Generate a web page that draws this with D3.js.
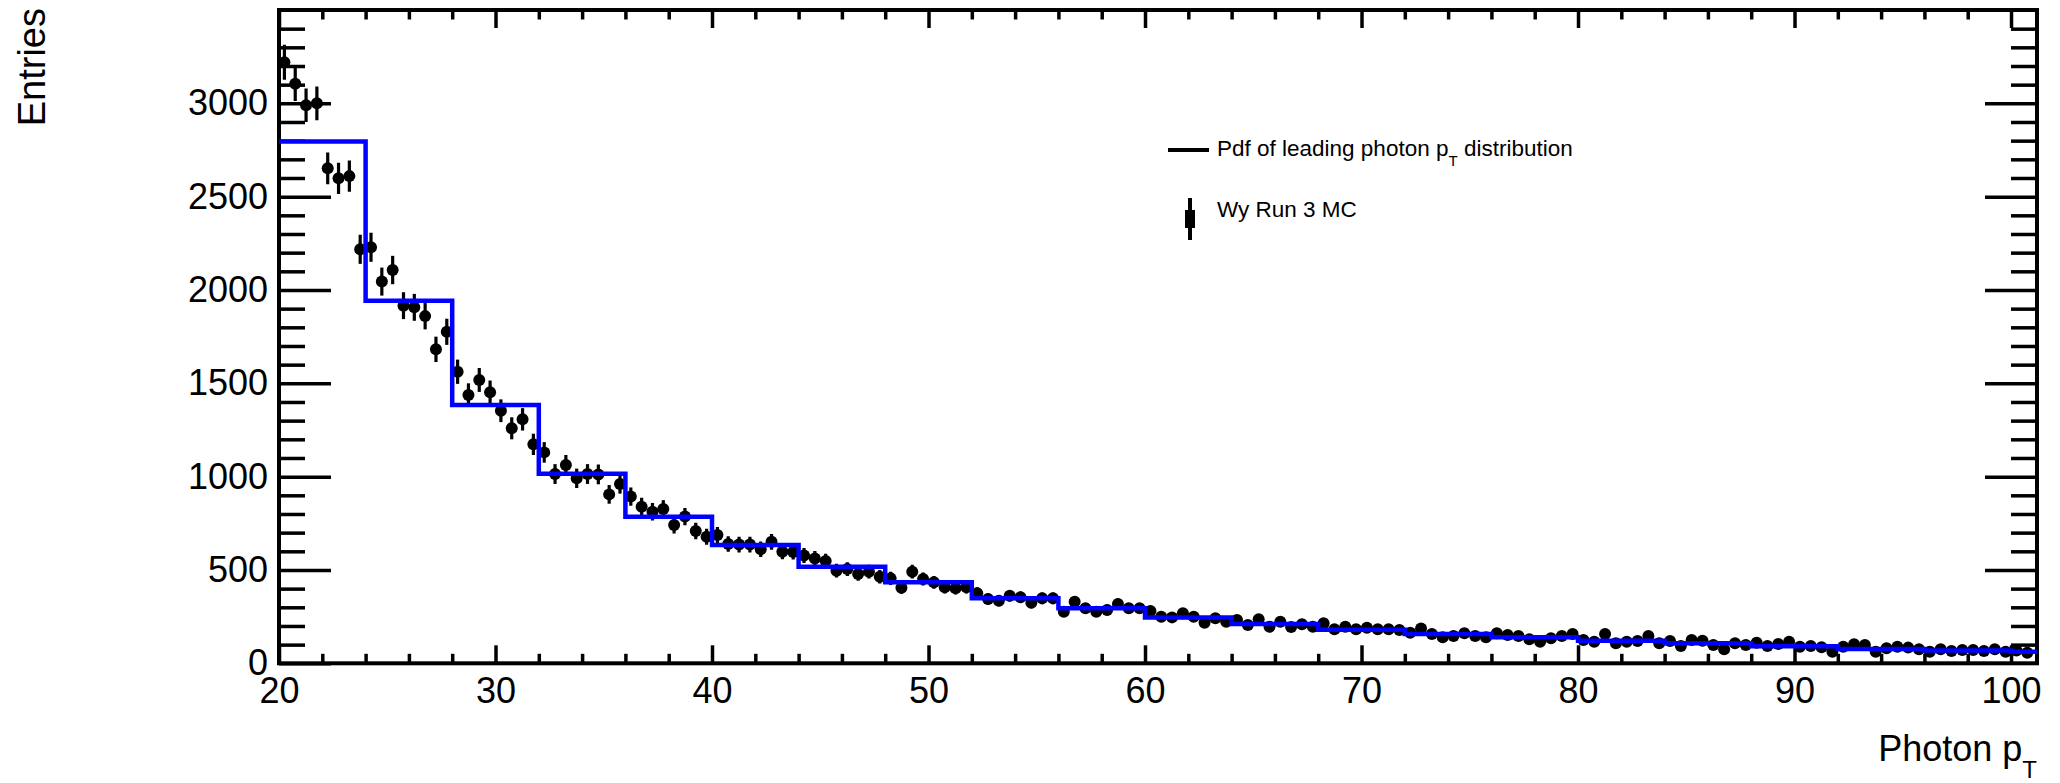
<!doctype html>
<html lang="en">
<head>
    <meta charset="UTF-8" />
    <title>Photon pT</title>
    <script src="https://d3js.org/d3.v7.min.js"></script>
    <style>
        body, html {
            margin: 0;
            padding: 0;
            background: white;
            overflow: hidden;
        }

        svg {
            display: block;
            font-family: "Liberation Sans", Arial, sans-serif;
        }

        .axis path.domain {
            display: none;
        }

        .axis line {
            stroke: black;
            stroke-width: 3.5px;
        }

        .axis text {
            font-family: "Liberation Sans", Arial, sans-serif;
            font-size: 36px;
            fill: black;
        }
    </style>
</head>
<body>
    <svg id="chart" width="2060" height="783"></svg>

    <script>
        // data histogram: 0.5 wide bins starting at 20
        const binStart = 20;
        const binWidth = 0.5;
        const counts = [
            3220, 3105, 2990, 3000, 2652, 2598, 2610, 2218, 2229, 2045,
            2107, 1916, 1907, 1860, 1682, 1776, 1562, 1437, 1518, 1452,
            1353, 1259, 1307, 1173, 1130, 1014, 1062, 991, 1014, 1012,
            905, 960, 893, 839, 812, 827, 741, 786, 709, 678,
            687, 639, 636, 636, 611, 651, 598, 596, 578, 562,
            548, 496, 505, 478, 491, 464, 455, 405, 491, 452,
            434, 407, 402, 407, 375, 344, 335, 362, 354, 325,
            348, 348, 276, 330, 295, 276, 286, 318, 295, 295,
            280, 250, 246, 268, 250, 217, 241, 223, 232, 205,
            236, 196, 223, 194, 209, 196, 214, 182, 196, 182,
            191, 182, 182, 178, 164, 187, 157, 139, 146, 161,
            146, 139, 161, 152, 146, 129, 116, 134, 146, 157,
            125, 116, 157, 107, 116, 119, 146, 107, 120, 93,
            125, 121, 98, 75, 107, 98, 110, 93, 103, 116,
            89, 93, 86, 62, 89, 102, 98, 62, 80, 89,
            84, 75, 62, 75, 66, 71, 71, 66, 75, 62,
            68, 57
        ];
        const errors = [
            94, 92, 90, 90, 85, 84, 84, 78, 78, 75,
            76, 72, 72, 71, 68, 70, 65, 63, 64, 63,
            61, 59, 60, 57, 55, 53, 54, 52, 53, 53,
            50, 51, 49, 48, 47, 47, 45, 46, 44, 43,
            43, 42, 42, 42, 41, 42, 40, 40, 40, 39,
            39, 37, 37, 36, 37, 36, 35, 33, 37, 35,
            34, 33, 33, 33, 32, 31, 30, 31, 31, 30,
            31, 31, 27, 30, 28, 27, 28, 29, 28, 28,
            28, 26, 26, 27, 26, 24, 26, 25, 25, 24,
            25, 23, 25, 23, 24, 23, 24, 22, 23, 22,
            23, 22, 22, 22, 21, 23, 21, 19, 20, 21,
            20, 19, 21, 20, 20, 19, 18, 19, 20, 21,
            18, 18, 21, 17, 18, 18, 20, 17, 18, 16,
            18, 18, 16, 14, 17, 16, 17, 16, 17, 18,
            16, 16, 15, 13, 16, 17, 16, 13, 15, 16,
            15, 14, 13, 14, 13, 14, 14, 13, 14, 13,
            14, 12
        ];

        // pdf histogram, 4 wide bins
        const pdfEdges = [20, 24, 28, 32, 36, 40, 44, 48, 52, 56, 60, 64, 68, 72, 76, 80, 84, 88, 92, 96, 100, 104];
        const pdfValues = [2795, 1943, 1384, 1015, 785, 634, 517, 434, 348, 295, 246, 211, 180, 157, 139, 121, 108, 91, 77, 68, 62];

        const xMajor = [20, 30, 40, 50, 60, 70, 80, 90, 100];
        const yMajor = [0, 500, 1000, 1500, 2000, 2500, 3000];

        const svg = d3.select("#chart");
        const plotLeft = 279, plotRight = 2037, plotTop = 10, plotBottom = 663.3;

        const x = d3.scaleLinear().domain([20, 101.2]).range([plotLeft, plotRight]);
        const y = d3.scaleLinear().domain([0, 3500]).range([plotBottom, plotTop]);

        const xMinor = d3.range(22, 101, 2).filter(d => d % 10 !== 0);
        const yMinor = d3.range(100, 3500, 100).filter(d => d % 500 !== 0);

        svg.append("rect")
            .attr("width", 2060).attr("height", 783).attr("fill", "white");

        svg.append("clipPath").attr("id", "plot-clip")
            .append("rect")
            .attr("x", plotLeft).attr("y", plotTop)
            .attr("width", plotRight - plotLeft).attr("height", plotBottom - plotTop);

        // axes: ticks point into the frame like ROOT
        svg.append("g").attr("class", "axis")
            .attr("transform", `translate(0,${plotBottom})`)
            .call(d3.axisBottom(x).tickValues(xMajor).tickSize(-18).tickSizeOuter(0)
                .tickPadding(14).tickFormat(d3.format("d")));
        svg.append("g").attr("class", "axis")
            .attr("transform", `translate(0,${plotBottom})`)
            .call(d3.axisBottom(x).tickValues(xMinor).tickSize(-9.5).tickSizeOuter(0).tickFormat(""));
        svg.append("g").attr("class", "axis")
            .attr("transform", `translate(0,${plotTop})`)
            .call(d3.axisTop(x).tickValues(xMajor).tickSize(-18).tickSizeOuter(0).tickFormat(""));
        svg.append("g").attr("class", "axis")
            .attr("transform", `translate(0,${plotTop})`)
            .call(d3.axisTop(x).tickValues(xMinor).tickSize(-9.5).tickSizeOuter(0).tickFormat(""));

        svg.append("g").attr("class", "axis")
            .attr("transform", `translate(${plotLeft},0)`)
            .call(d3.axisLeft(y).tickValues(yMajor).tickSize(-52).tickSizeOuter(0)
                .tickPadding(11).tickFormat(d3.format("d")));
        svg.append("g").attr("class", "axis")
            .attr("transform", `translate(${plotLeft},0)`)
            .call(d3.axisLeft(y).tickValues(yMinor).tickSize(-26).tickSizeOuter(0).tickFormat(""));
        svg.append("g").attr("class", "axis")
            .attr("transform", `translate(${plotRight},0)`)
            .call(d3.axisRight(y).tickValues(yMajor.filter(d => d > 0)).tickSize(-52).tickSizeOuter(0).tickFormat(""));
        svg.append("g").attr("class", "axis")
            .attr("transform", `translate(${plotRight},0)`)
            .call(d3.axisRight(y).tickValues(yMinor).tickSize(-26).tickSizeOuter(0).tickFormat(""));

        svg.append("rect")
            .attr("x", plotLeft).attr("y", plotTop)
            .attr("width", plotRight - plotLeft).attr("height", plotBottom - plotTop)
            .attr("fill", "none").attr("stroke", "black").attr("stroke-width", 4);

        // data points with vertical error bars
        const points = counts.map((c, i) => ({
            x: binStart + binWidth * (i + 0.5),
            v: c,
            e: errors[i]
        }));

        const pts = svg.append("g").attr("clip-path", "url(#plot-clip)");
        pts.selectAll("line")
            .data(points)
            .join("line")
            .attr("x1", d => x(d.x)).attr("x2", d => x(d.x))
            .attr("y1", d => y(d.v - d.e)).attr("y2", d => y(d.v + d.e))
            .attr("stroke", "black").attr("stroke-width", 3.2);
        pts.selectAll("circle")
            .data(points)
            .join("circle")
            .attr("cx", d => x(d.x)).attr("cy", d => y(d.v))
            .attr("r", 6)
            .attr("fill", "black");

        // pdf step line
        const stepPts = pdfValues.map((v, i) => [pdfEdges[i], v]);
        stepPts.push([pdfEdges[pdfEdges.length - 1], pdfValues[pdfValues.length - 1]]);
        const step = d3.line()
            .x(d => x(d[0])).y(d => y(d[1]))
            .curve(d3.curveStepAfter);
        svg.append("path")
            .attr("clip-path", "url(#plot-clip)")
            .attr("d", step(stepPts))
            .attr("fill", "none")
            .attr("stroke", "#0000ff")
            .attr("stroke-width", 4.5);

        // axis titles
        svg.append("text")
            .attr("transform", "translate(45,8) rotate(-90)")
            .attr("text-anchor", "end")
            .attr("font-size", 38)
            .text("Entries");

        const xt = svg.append("text")
            .attr("x", 2037).attr("y", 761)
            .attr("text-anchor", "end")
            .attr("font-size", 36);
        xt.append("tspan").text("Photon p");
        xt.append("tspan").attr("font-size", 24).attr("dy", 17).text("T");

        // legend
        svg.append("line")
            .attr("x1", 1168).attr("x2", 1209)
            .attr("y1", 150).attr("y2", 150)
            .attr("stroke", "black").attr("stroke-width", 4);
        const lt = svg.append("text")
            .attr("x", 1217).attr("y", 156)
            .attr("font-size", 22.5);
        lt.append("tspan").text("Pdf of leading photon p");
        lt.append("tspan").attr("font-size", 15).attr("dy", 10).text("T");
        lt.append("tspan").attr("dy", -10).text(" distribution");

        svg.append("line")
            .attr("x1", 1190).attr("x2", 1190)
            .attr("y1", 198).attr("y2", 240)
            .attr("stroke", "black").attr("stroke-width", 4);
        svg.append("rect")
            .attr("x", 1185).attr("y", 210)
            .attr("width", 10).attr("height", 18)
            .attr("fill", "black");
        svg.append("text")
            .attr("x", 1217).attr("y", 217)
            .attr("font-size", 22.5)
            .text("Wy Run 3 MC");
    </script>
</body>
</html>
